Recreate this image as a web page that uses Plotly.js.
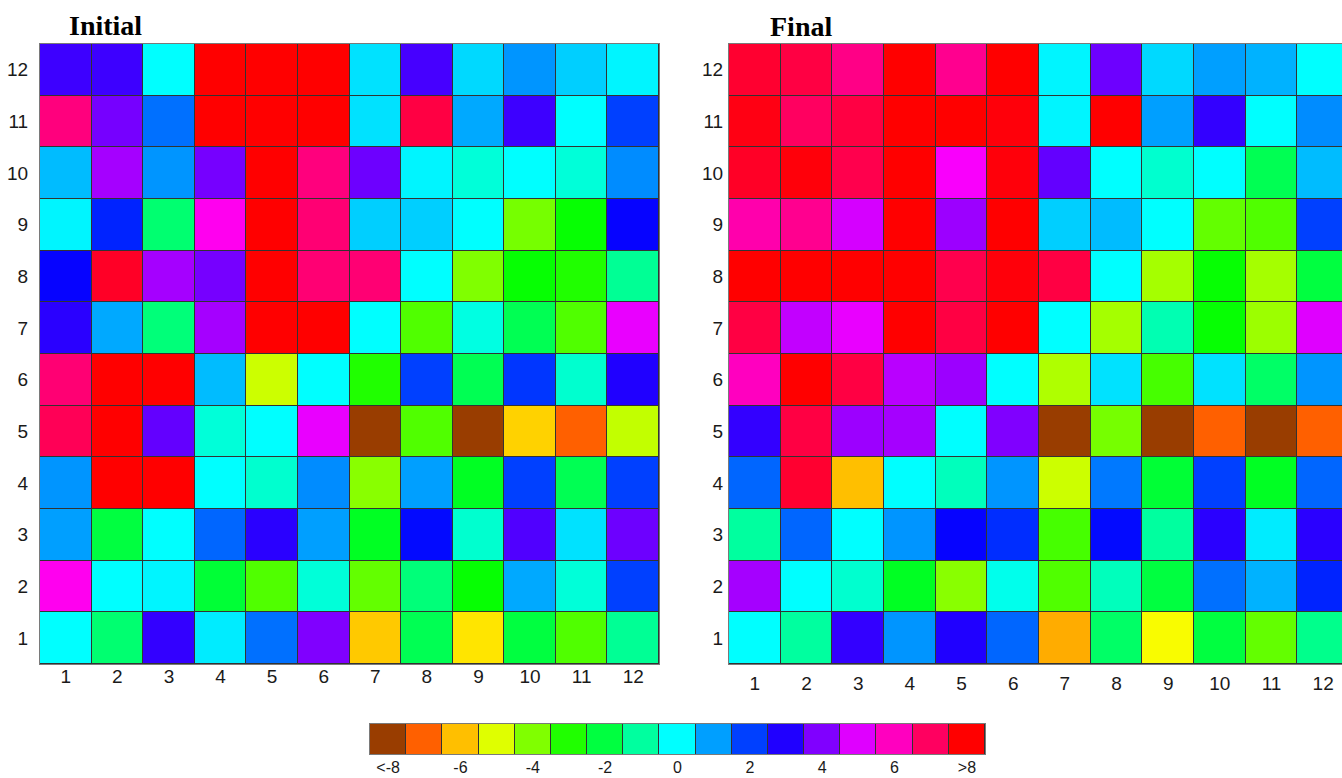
<!DOCTYPE html>
<html><head><meta charset="utf-8">
<script src="https://cdn.plot.ly/plotly-3.0.1.min.js"></script>
<style>html,body{margin:0;padding:0;overflow:hidden;background:#fff}</style>
</head><body><div id="chart" style="width:1360px;height:778px"></div>
<script>
const cellColumns = [1,2,3,4,5,6,7,8,9,10,11,12];
const cellRows = [1,2,3,4,5,6,7,8,9,10,11,12];

// rows listed from row 1 (bottom) to row 12 (top)
const initialValues = [
  [0, -1.5, 3.2, 0.2, 1.5, 4.0, -5.9, -1.8, -5.6, -2.0, -3.5, -1.1],
  [5.5, 0, 0.1, -2.1, -3.5, -0.4, -3.7, -1.4, -2.7, 0.9, -0.4, 2.0],
  [1.0, -2.0, 0, 1.6, 3.1, 1.0, -2.3, 2.6, -0.5, 3.5, 0.3, 3.8],
  [1.1, 8, 8, 0, -0.5, 1.2, -4.1, 1.0, -2.3, 2.0, -1.8, 2.0],
  [7.1, 8, 3.7, -0.4, 0, 5.1, -8, -3.5, -8, -5.8, -7, -4.7],
  [6.8, 8, 8, 0.7, -4.8, 0, -3.0, 2.0, -1.8, 2.1, -0.5, 3.0],
  [3.1, 0.9, -1.4, 4.4, 8, 8, 0, -3.5, -0.3, -1.8, -3.5, 5.1],
  [2.7, 7.6, 4.4, 3.9, 8, 6.8, 6.8, 0, -4.0, -2.7, -3.0, -1.1],
  [0.1, 2.3, -1.5, 5.5, 8, 6.8, 0.5, 0.5, 0, -3.9, -2.7, 2.7],
  [0.7, 4.4, 1.1, 3.9, 8, 6.7, 3.8, 0.1, -0.4, 0, -0.4, 1.2],
  [6.7, 3.9, 1.5, 8, 8, 8, 0.3, 7.3, 0.9, 3.3, 0, 2.0],
  [3.3, 3.3, 0, 8, 8, 8, 0.3, 3.4, 0.4, 1.1, 0.5, 0.1]
];

const finalValues = [
  [0, -1.0, 3.2, 1.1, 3.0, 1.6, -6.2, -1.6, -5.3, -2.0, -3.7, -1.2],
  [4.4, 0, -0.5, -2.3, -4.1, -0.2, -3.5, -0.7, -2.0, 1.5, 0.8, 2.3],
  [-1.0, 1.6, 0, 1.1, 2.7, 2.2, -3.4, 2.6, -1.0, 3.1, 0.2, 3.1],
  [1.6, 7.5, -6.0, 0, -0.7, 1.1, -4.8, 1.4, -2.1, 2.0, -2.3, 1.6],
  [3.2, 7.3, 4.3, 4.4, 0, 4.0, -8, -3.9, -8, -7, -8, -7],
  [6.0, 8, 7.3, 4.6, 4.3, 0, -4.5, 0.3, -3.4, 0.3, -1.6, 1.1],
  [7.3, 4.7, 5.1, 8, 7.3, 8, 0, -4.4, -0.8, -2.7, -4.3, 5.0],
  [8, 8, 8, 8, 7.2, 7.9, 7.3, 0, -4.4, -2.7, -4.4, -2.0],
  [6.2, 6.5, 4.9, 8, 4.3, 8, 0.5, 0.7, 0, -3.7, -3.5, 2.0],
  [7.6, 7.9, 7.2, 8, 5.3, 7.9, 3.7, 0, -0.5, 0, -1.8, 0.7],
  [7.8, 7.0, 7.3, 8, 8, 7.9, 0.1, 8, 1.0, 3.2, 0, 1.2],
  [7.5, 7.3, 6.6, 8, 6.5, 8, 0.1, 3.8, 0.4, 1.0, 0.8, 0]
];

const legendLevels = [-8,-7,-6,-5,-4,-3,-2,-1,0,1,2,3,4,5,6,7,8];
const legendTickValues = [-8,-6,-4,-2,0,2,4,6,8];
const legendTickLabels = ['<-8','-6','-4','-2','0','2','4','6','>8'];

function hueHex(h) {
  h = ((h % 360) + 360) % 360;
  const c = 1, x = 1 - Math.abs((h / 60) % 2 - 1);
  let r, g, b;
  if (h < 60) [r,g,b] = [c,x,0];
  else if (h < 120) [r,g,b] = [x,c,0];
  else if (h < 180) [r,g,b] = [0,c,x];
  else if (h < 240) [r,g,b] = [0,x,c];
  else if (h < 300) [r,g,b] = [x,0,c];
  else [r,g,b] = [c,0,x];
  const t = v => Math.round(v*255).toString(16).padStart(2,'0');
  return '#' + t(r) + t(g) + t(b);
}
const zMin = -8, zMax = 8;
// fine hue-based colour scale (brown below -7, then hue 22.5 deg per unit)
const colorscale = [[0, '#993d00']];
for (let k = 0; k <= 60; k++) {
  const v = -7 + k * 0.25;
  colorscale.push([(v - zMin) / (zMax - zMin), hueHex(180 + 22.5 * v)]);
}

const W = 1360, H = 778;
const px = p => p / W;
const py = p => 1 - p / H;

const tickFont = {family: 'Liberation Sans, Arial, sans-serif', size: 19, color: '#1a1a1a'};
const frame = {showgrid: false, zeroline: false, showline: true, mirror: true, linecolor: '#7a7a7a', linewidth: 1, ticks: '', fixedrange: true};

const heat = (z, xa, ya) => ({
  type: 'heatmap', x: cellColumns, y: cellRows, z: z, zmin: zMin, zmax: zMax,
  colorscale: colorscale, showscale: false, xgap: 1, ygap: 1, hoverinfo: 'skip',
  xaxis: xa, yaxis: ya
});

const data = [
  heat(initialValues, 'x', 'y'),
  heat(finalValues, 'x2', 'y2'),
  {type: 'heatmap', x: legendLevels, y: [0], z: [legendLevels], zmin: zMin, zmax: zMax,
   colorscale: colorscale, showscale: false, xgap: 1, ygap: 0, hoverinfo: 'skip', xaxis: 'x3', yaxis: 'y3'}
];

const layout = {
  width: W, height: H,
  margin: {l: 0, r: 0, t: 0, b: 0},
  paper_bgcolor: '#ffffff', plot_bgcolor: '#333333',
  showlegend: false,
  xaxis: Object.assign({}, frame, {domain: [px(40), px(659)], range: [0.5, 12.5], tickvals: cellColumns, tickfont: tickFont, anchor: 'y', ticklabelstandoff: -5}),
  yaxis: Object.assign({}, frame, {domain: [py(664), py(44)], range: [0.5, 12.5], tickvals: cellRows, tickfont: tickFont, anchor: 'x', ticklabelstandoff: 7}),
  xaxis2: Object.assign({}, frame, {domain: [px(729), px(1349)], range: [0.5, 12.5], tickvals: cellColumns, tickfont: tickFont, anchor: 'y2', ticklabelstandoff: 2}),
  yaxis2: Object.assign({}, frame, {domain: [py(664), py(44)], range: [0.5, 12.5], tickvals: cellRows, tickfont: tickFont, anchor: 'x2', ticklabelstandoff: 1}),
  xaxis3: Object.assign({}, frame, {domain: [px(370), px(985)], range: [-8.5, 8.5], tickvals: legendTickValues, ticktext: legendTickLabels,
    tickfont: {family: 'Liberation Sans, Arial, sans-serif', size: 16, color: '#1a1a1a'}, anchor: 'y3', ticklabelstandoff: -1}),
  yaxis3: Object.assign({}, frame, {domain: [py(754), py(724)], range: [-0.5, 0.5], showticklabels: false, anchor: 'x3'}),
  annotations: [
    {text: '<b>Initial</b>', xref: 'paper', yref: 'paper', x: px(67), y: py(26), xanchor: 'left', yanchor: 'middle', showarrow: false,
     font: {family: 'Liberation Serif, Times New Roman, serif', size: 28, color: '#000'}},
    {text: '<b>Final</b>', xref: 'paper', yref: 'paper', x: px(768), y: py(27), xanchor: 'left', yanchor: 'middle', showarrow: false,
     font: {family: 'Liberation Serif, Times New Roman, serif', size: 28, color: '#000'}}
  ]
};

Plotly.newPlot('chart', data, layout, {displayModeBar: false, staticPlot: true});
</script></body></html>
